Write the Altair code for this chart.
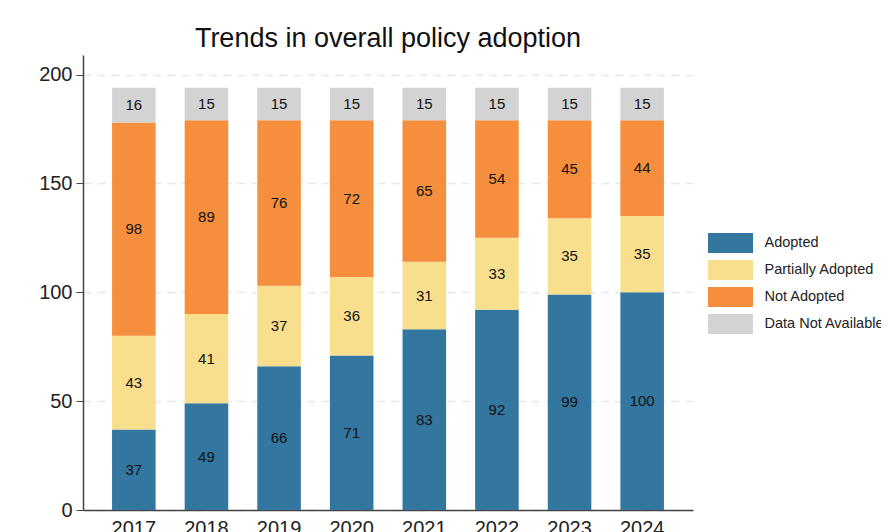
import altair as alt
import pandas as pd

years = ["2017", "2018", "2019", "2020", "2021", "2022", "2023", "2024"]
adopted = [37, 49, 66, 71, 83, 92, 99, 100]
partial = [43, 41, 37, 36, 31, 33, 35, 35]
not_adopted = [98, 89, 76, 72, 65, 54, 45, 44]
not_available = [16, 15, 15, 15, 15, 15, 15, 15]

cats = ["Adopted", "Partially Adopted", "Not Adopted", "Data Not Available"]
colors = ["#33769F", "#F8DF8E", "#F58E3D", "#D3D3D3"]
series = [adopted, partial, not_adopted, not_available]

rows = []
for ci, (c, vals) in enumerate(zip(cats, series)):
    for y, v in zip(years, vals):
        rows.append({"Year": y, "Status": c, "Count": v, "ord": ci})
df = pd.DataFrame(rows)

FONT = "Liberation Sans"

base = alt.Chart(df).transform_stack(
    stack="Count", groupby=["Year"], as_=["y0", "y1"], sort=[alt.SortField("ord", order="ascending")]
).transform_calculate(mid="(datum.y0 + datum.y1) / 2")

xenc = alt.X("Year:N", title=None,
             scale=alt.Scale(paddingInner=0.4, paddingOuter=0.4),
             axis=alt.Axis(labelAngle=0, labelFontSize=20, labelColor="#222222", ticks=False,
                           domainColor="#444444", labelPadding=8, labelFont=FONT))

bars = base.mark_bar().encode(
    x=xenc,
    y=alt.Y("y0:Q", title=None,
            scale=alt.Scale(domain=[0, 209], nice=False),
            axis=alt.Axis(values=[0, 50, 100, 150, 200], labelFontSize=20, labelColor="#222222",
                          tickSize=7, tickColor="#444444", domainColor="#444444",
                          grid=True, gridDash=[8, 6], gridColor="#E8E8E8", gridWidth=1.5,
                          labelFont=FONT, labelPadding=4)),
    y2="y1:Q",
    color=alt.Color("Status:N", scale=alt.Scale(domain=cats, range=colors), title=None,
                    legend=alt.Legend(orient="none", legendX=637.5, legendY=178,
                                      symbolType="M-2.25,-1H2.25V1H-2.25Z", symbolSize=400,
                                      symbolStrokeWidth=0, symbolOpacity=1,
                                      labelFontSize=14.5, labelFont=FONT, labelColor="#222222",
                                      labelOffset=24, rowPadding=7)),
)

labels = base.mark_text(fontSize=15, font=FONT, color="#111111", baseline="middle").encode(
    x="Year:N",
    y="mid:Q",
    text="Count:Q",
)

chart = alt.layer(bars, labels).properties(
    width=610, height=455,
    title=alt.TitleParams("Trends in overall policy adoption", fontSize=27, font=FONT,
                          fontWeight="normal", color="#111111", anchor="middle", offset=2),
    autosize=alt.AutoSizeParams(type="none"),
    padding={"left": 75, "top": 47, "right": 188, "bottom": 40},
).configure_view(stroke=None).configure_axis(domainWidth=1.5)

chart.save("out.html", embed_options={"renderer": "svg", "actions": False})
